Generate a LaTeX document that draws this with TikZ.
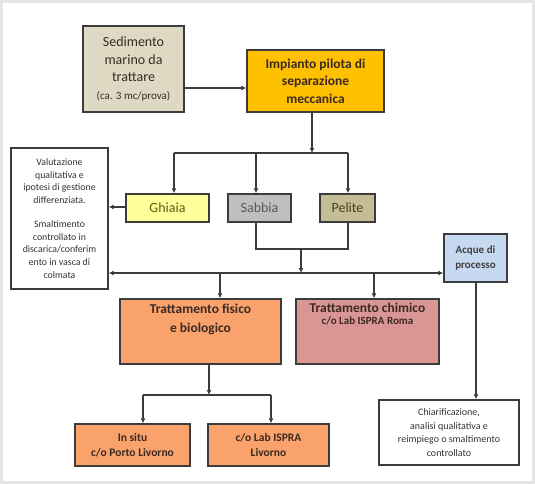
\documentclass[tikz,border=0pt]{standalone}
\usepackage{fontspec}
\setmainfont{Carlito}
\usepackage{tikz}
\usetikzlibrary{positioning,calc,arrows.meta}

\definecolor{sedfill}{HTML}{DDD9C3}
\definecolor{impfill}{HTML}{FFC000}
\definecolor{ghifill}{HTML}{FFFF99}
\definecolor{sabfill}{HTML}{BFBFBF}
\definecolor{pelfill}{HTML}{C4BD97}
\definecolor{acqfill}{HTML}{C6D9F1}
\definecolor{fisfill}{HTML}{F9A26C}
\definecolor{chifill}{HTML}{D99694}
\definecolor{tdark}{HTML}{3A2A22}
\definecolor{tolive}{HTML}{5B5B1E}
\definecolor{tgray}{HTML}{595959}
\definecolor{tbrown}{HTML}{4A3F1C}
\definecolor{linegray}{HTML}{3C3C3C}

\begin{document}
\begin{tikzpicture}[x=1pt,y=-1pt,
  box/.style={draw=linegray, line width=1.4pt, align=center, inner sep=1pt, text=tdark},
  conn/.style={draw=linegray, line width=1.2pt},
  arr/.style={conn, -{Latex[length=5pt,width=5pt]}}]
\useasboundingbox (0,0) rectangle (535,484);
\draw[line width=3pt, black!10] (1.5,1.5) rectangle (533.5,482.5);

% boxes
\node[box, fill=sedfill, minimum width=101, minimum height=86, font=\fontsize{14}{17.5}\selectfont] (sed) at (133.5,69)
  {Sedimento\\marino da\\trattare\\{\fontsize{11}{13}\selectfont (ca. 3 mc/prova)}};
\node[box, fill=impfill, minimum width=137, minimum height=62, font=\bfseries\fontsize{13.5}{17.5}\selectfont] (imp) at (315.5,81)
  {Impianto pilota di\\separazione\\meccanica};
\node[box, fill=white, minimum width=97, minimum height=141, text=black!80, font=\fontsize{9.8}{12.7}\selectfont] (val) at (59.5,218.5)
  {Valutazione\\qualitativa e\\ipotesi di gestione\\differenziata.\\[11pt]Smaltimento\\controllato in\\discarica/conferim\\ento in vasca di\\colmata};
\node[box, fill=ghifill, minimum width=83, minimum height=28, text=tolive, font=\fontsize{14}{17}\selectfont] (ghi) at (167.5,208) {Ghiaia};
\node[box, fill=sabfill, minimum width=63, minimum height=28, text=tgray, font=\fontsize{14}{17}\selectfont] (sab) at (259.5,208) {Sabbia};
\node[box, fill=pelfill, minimum width=55, minimum height=28, text=tbrown, font=\fontsize{14}{17}\selectfont] (pel) at (347.5,208) {Pelite};
\node[box, fill=acqfill, minimum width=63, minimum height=48, text=black!75, font=\bfseries\fontsize{11}{15}\selectfont] (acq) at (475.5,258)
  {Acque di\\processo};
\node[box, fill=fisfill, minimum width=161, minimum height=65, font=\bfseries\fontsize{13.5}{19}\selectfont] (fis) at (200.5,331.5)
  {Trattamento fisico\\e biologico\\[8pt]};
\node[box, fill=chifill, minimum width=143, minimum height=65, inner sep=0pt] (chi) at (367.5,331.5)
  {\parbox[t][60pt][t]{140pt}{\centering\bfseries\vspace{2pt}%
   {\fontsize{13.5}{17}\selectfont Trattamento chimico}\\
   {\fontsize{11}{14}\selectfont c/o Lab ISPRA Roma}}};
\node[box, fill=fisfill, minimum width=115, minimum height=42, font=\bfseries\fontsize{11.5}{15}\selectfont] (ins) at (132.5,445)
  {In situ\\c/o Porto Livorno};
\node[box, fill=fisfill, minimum width=121, minimum height=42, font=\bfseries\fontsize{11.5}{15}\selectfont] (lab) at (268.5,445)
  {c/o Lab ISPRA\\Livorno};
\node[box, fill=white, minimum width=140, minimum height=65, text=black!80, font=\fontsize{10}{13.5}\selectfont] (chr) at (449,432.5)
  {Chiarificazione,\\analisi qualitativa e\\reimpiego o smaltimento\\controllato};

% connectors
\coordinate (b1) at (312,153);
\coordinate (j1) at (301,249);
\coordinate (b2) at (301,273);
\coordinate (b3) at (209,395);

\draw[arr] (sed.east |- 0,88) -- (imp.west |- 0,88);
\draw[arr] (imp.south -| b1) -- (b1);
\draw[conn] (174,153) -- (348,153);
\draw[arr] (174,153) -- (ghi.north -| 174,0);
\draw[arr] (256,153) -- (sab.north -| 256,0);
\draw[arr] (348,153) -- (pel.north -| 348,0);
\draw[arr] (ghi.west |- 0,207) -- (val.east |- 0,207);

\draw[conn] (sab.south -| 256,0) -- (256,249) -- (348,249) -- (pel.south -| 348,0);
\draw[arr] (j1) -- (b2);
\draw[arr] (b2) -- (val.east |- b2);
\draw[arr] (b2) -- (acq.west |- b2);
\draw[arr] (220,273) -- (fis.north -| 220,0);
\draw[arr] (374,273) -- (chi.north -| 374,0);
\draw[arr] (acq.south -| 476,0) -- (chr.north -| 476,0);

\draw[arr] (fis.south -| b3) -- (b3);
\draw[conn] (143,395) -- (271,395);
\draw[arr] (143,395) -- (ins.north -| 143,0);
\draw[arr] (271,395) -- (lab.north -| 271,0);
\end{tikzpicture}
\end{document}
